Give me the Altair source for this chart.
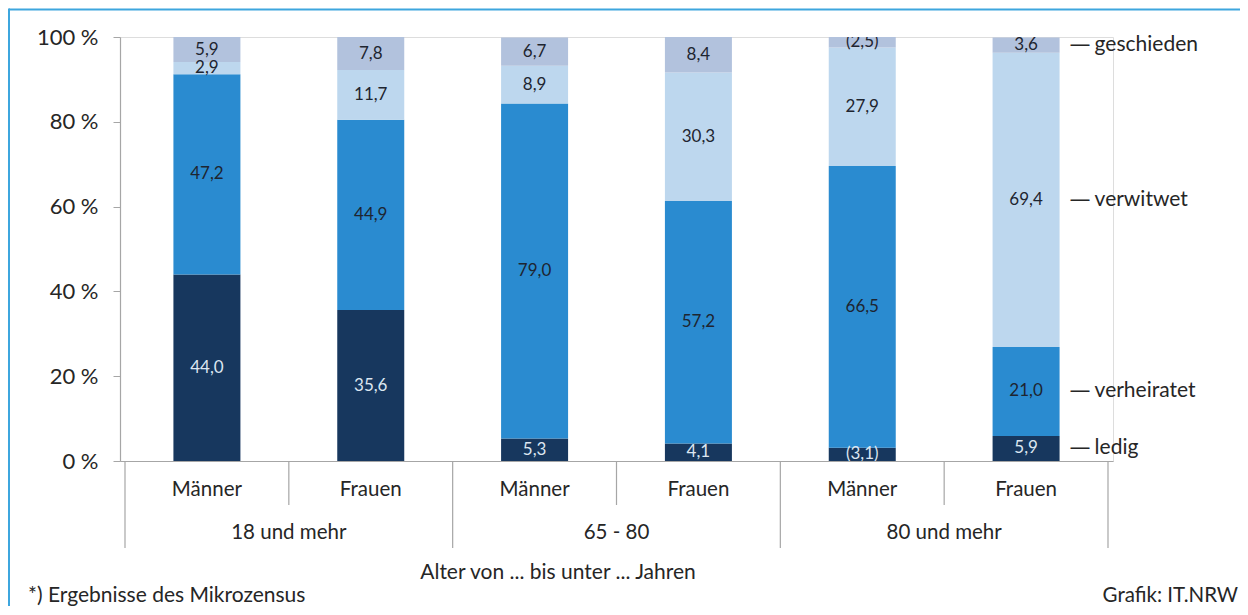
import altair as alt
import pandas as pd

# ---- data ----
groups = ["18 und mehr", "65 - 80", "80 und mehr"]
sexes = ["Männer", "Frauen"]
statuses = ["ledig", "verheiratet", "verwitwet", "geschieden"]
ledig = [44.0, 35.6, 5.3, 4.1, 3.1, 5.9]
verheiratet = [47.2, 44.9, 79.0, 57.2, 66.5, 21.0]
verwitwet = [2.9, 11.7, 8.9, 30.3, 27.9, 69.4]
geschieden = [5.9, 7.8, 6.7, 8.4, 2.5, 3.6]
# values shown in brackets (statistically uncertain)
in_klammern = [("80 und mehr", "Männer", "ledig"), ("80 und mehr", "Männer", "geschieden")]
y_ticks = [0, 20, 40, 60, 80, 100]
axis_title = "Alter von ... bis unter ... Jahren"
footnote = "*) Ergebnisse des Mikrozensus"
source = "Grafik: IT.NRW"

colors = ["#17375e", "#2a8bd0", "#bdd7ee", "#b2c2dd"]
FONT = "Lato"
TXT = "#262626"
GRID = "#a6a6a6"

series = {"ledig": ledig, "verheiratet": verheiratet, "verwitwet": verwitwet, "geschieden": geschieden}
rows = []
idx = 0
for g in groups:
    for s in sexes:
        for k, st in enumerate(statuses):
            v = series[st][idx]
            lab = f"{v:.1f}".replace(".", ",")
            if (g, s, st) in in_klammern:
                lab = f"({lab})"
            rows.append({"idx": idx, "gruppe": g, "geschlecht": s, "status": st,
                         "ord": k, "value": v, "label": lab})
        idx += 1
df = pd.DataFrame(rows)
n_bars = idx

W, H = 993, 424
BAR = 67

xs = alt.Scale(domain=[0, n_bars], nice=False, zero=False)
ys = alt.Scale(domain=[0, 100], nice=False)

base = alt.Chart(df).transform_stack(
    stack="value", groupby=["idx"], sort=[alt.SortField("ord", order="ascending")], as_=["y0", "y1"]
).transform_calculate(
    center="datum.idx + 0.5", mid="(datum.y0 + datum.y1) / 2"
)

bars = base.mark_bar(size=BAR).encode(
    x=alt.X("center:Q", scale=xs,
            axis=alt.Axis(labels=False, ticks=False, grid=False, title=None,
                          domainColor=GRID, domainWidth=1.2)),
    y=alt.Y("y0:Q", scale=ys,
            axis=alt.Axis(values=y_ticks, labelExpr="datum.value + ' %'", grid=False, title=None,
                          domainColor=GRID, domainWidth=1.2, tickColor=GRID, tickSize=7,
                          labelFont=FONT, labelFontSize=22, labelColor=TXT, labelPadding=15)),
    y2="y1:Q",
    color=alt.Color("status:N", scale=alt.Scale(domain=statuses, range=colors), legend=None),
)

labels = base.mark_text(font=FONT, fontSize=17, baseline="middle", clip=True).encode(
    x=alt.X("center:Q", scale=xs),
    y=alt.Y("mid:Q", scale=ys),
    text="label:N",
    color=alt.condition(alt.datum.status == "ledig", alt.value("#dce6f1"), alt.value("#1e2530")),
)

last = base.transform_filter(alt.datum.idx == n_bars - 1)
legend_dash = last.transform_calculate(d="'—'").mark_text(
    font="DejaVu Sans", fontSize=21, align="left", baseline="middle", dx=BAR / 2 + 10, color=TXT
).encode(x=alt.X("center:Q", scale=xs), y=alt.Y("mid:Q", scale=ys), text="d:N")
legend_txt = last.mark_text(
    font=FONT, fontSize=21, align="left", baseline="middle", dx=BAR / 2 + 35, color=TXT
).encode(x=alt.X("center:Q", scale=xs), y=alt.Y("mid:Q", scale=ys), text="status:N")

# category axis: sex labels, group labels, separators
cats = pd.DataFrame([{"idx": i, "geschlecht": sexes[i % 2]} for i in range(n_bars)])
cat_lab = alt.Chart(cats).transform_calculate(center="datum.idx + 0.5").mark_text(
    font=FONT, fontSize=20.5, color=TXT, baseline="middle"
).encode(x=alt.X("center:Q", scale=xs), y=alt.value(H + 29), text="geschlecht:N")

grp = pd.DataFrame([{"gi": i, "gruppe": g} for i, g in enumerate(groups)])
grp_lab = alt.Chart(grp).transform_calculate(center="datum.gi * 2 + 1").mark_text(
    font=FONT, fontSize=20.5, color=TXT, baseline="middle"
).encode(x=alt.X("center:Q", scale=xs), y=alt.value(H + 72), text="gruppe:N")

inner = pd.DataFrame({"b": [2 * i + 1 for i in range(len(groups))]})
outer = pd.DataFrame({"b": [2 * i for i in range(len(groups) + 1)]})
sep_inner = alt.Chart(inner).mark_rule(color=GRID, strokeWidth=1.2).encode(
    x=alt.X("b:Q", scale=xs), y=alt.value(H), y2=alt.value(H + 44))
sep_outer = alt.Chart(outer).mark_rule(color=GRID, strokeWidth=1.2).encode(
    x=alt.X("b:Q", scale=xs), y=alt.value(H), y2=alt.value(H + 87))

one = pd.DataFrame({"t": [axis_title], "f": [footnote], "s": [source]})
title_txt = alt.Chart(one).mark_text(font=FONT, fontSize=21, color=TXT, baseline="middle").encode(
    x=alt.value(438), y=alt.value(H + 112), text="t:N")
foot_txt = alt.Chart(one).mark_text(font=FONT, fontSize=21, color=TXT, baseline="middle", align="left").encode(
    x=alt.value(-92), y=alt.value(H + 135), text="f:N")
src_txt = alt.Chart(one).mark_text(font=FONT, fontSize=20.5, color=TXT, baseline="middle", align="right").encode(
    x=alt.value(1118), y=alt.value(H + 135), text="s:N")

frame_top = alt.Chart(one).mark_rule(color="#3ea6de", strokeWidth=2).encode(
    x=alt.value(-111), x2=alt.value(1125), y=alt.value(-27.5))
frame_left = alt.Chart(one).mark_rule(color="#3ea6de", strokeWidth=2).encode(
    x=alt.value(-111), y=alt.value(-28.5), y2=alt.value(H + 150))

chart = alt.layer(
    bars, labels, legend_dash, legend_txt, sep_inner, sep_outer, cat_lab, grp_lab,
    title_txt, foot_txt, src_txt, frame_top, frame_left
).properties(
    width=W, height=H,
    autosize=alt.AutoSizeParams(type="none"),
    padding={"left": 112, "top": 29, "right": 127, "bottom": 145},
).configure_view(stroke=None).configure(background="white")

chart.save("out.html", embed_options={"renderer": "svg", "actions": False})
